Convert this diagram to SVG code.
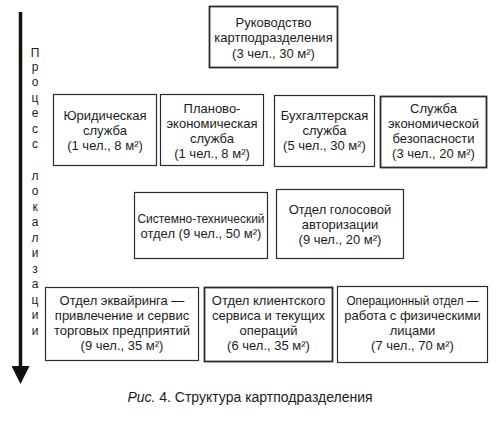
<svg xmlns="http://www.w3.org/2000/svg" width="499" height="429" viewBox="0 0 499 429">
  <defs>
    <style>
      .box { fill: #ffffff; stroke: #2b2b2b; stroke-width: 1.2; }
      .bold { stroke-width: 1.8; }
      .t { font-family: "Liberation Sans", Arial, sans-serif; font-size: 13px; fill: #1c1c1c; text-anchor: middle; }
      .v { font-family: "Liberation Sans", Arial, sans-serif; font-size: 12px; fill: #1c1c1c; text-anchor: middle; }
      .cap { font-family: "Liberation Sans", Arial, sans-serif; font-size: 14px; fill: #1c1c1c; text-anchor: middle; }
      .axis { stroke: #111; stroke-width: 3.5; fill: none; }
    </style>
    <marker id="head" markerUnits="userSpaceOnUse" markerWidth="18" markerHeight="18" refX="0" refY="9" orient="auto">
      <path d="M0,0 L18,9 L0,18 Z" fill="#111"/>
    </marker>
  </defs>
  <rect width="499" height="429" fill="#ffffff"/>

  <g id="connectors">
    <line class="axis" x1="20.5" y1="12" x2="20.5" y2="366" marker-end="url(#head)"/>
  </g>

  <g id="process-label">
    <text class="v" x="35" y="56.5">П</text>
    <text class="v" x="35" y="70.5">р</text>
    <text class="v" x="35" y="86">о</text>
    <text class="v" x="35" y="101.5">ц</text>
    <text class="v" x="35" y="117">е</text>
    <text class="v" x="35" y="132.5">с</text>
    <text class="v" x="35" y="148">с</text>
    <text class="v" x="35" y="179.5">л</text>
    <text class="v" x="35" y="195">о</text>
    <text class="v" x="35" y="210.5">к</text>
    <text class="v" x="35" y="226">а</text>
    <text class="v" x="35" y="241.5">л</text>
    <text class="v" x="35" y="257">и</text>
    <text class="v" x="35" y="272.5">з</text>
    <text class="v" x="35" y="288">а</text>
    <text class="v" x="35" y="303.5">ц</text>
    <text class="v" x="35" y="319">и</text>
    <text class="v" x="35" y="334.5">и</text>
  </g>

  <g id="head-office">
    <rect class="box bold" x="209.5" y="6.5" width="128" height="61"/>
    <text class="t" x="273.5" y="26.5">Руководство</text>
    <text class="t" x="273.5" y="42">картподразделения</text>
    <text class="t" x="273.5" y="57.5">(3 чел., 30 м²)</text>
  </g>

  <g id="legal">
    <rect class="box" x="53.5" y="94.5" width="103" height="71"/>
    <text class="t" x="105" y="119.5">Юридическая</text>
    <text class="t" x="105" y="134.5">служба</text>
    <text class="t" x="105" y="149.5">(1 чел., 8 м²)</text>
  </g>

  <g id="planning">
    <rect class="box" x="160.5" y="94.5" width="103" height="71"/>
    <text class="t" x="212" y="112.5">Планово-</text>
    <text class="t" x="212" y="127.5">экономическая</text>
    <text class="t" x="212" y="142.5">служба</text>
    <text class="t" x="212" y="157.5">(1 чел., 8 м²)</text>
  </g>

  <g id="accounting">
    <rect class="box" x="274.5" y="95.5" width="100" height="71"/>
    <text class="t" x="324.5" y="120">Бухгалтерская</text>
    <text class="t" x="324.5" y="135">служба</text>
    <text class="t" x="324.5" y="150">(5 чел., 30 м²)</text>
  </g>

  <g id="security">
    <rect class="box bold" x="380.5" y="96.5" width="106" height="71"/>
    <text class="t" x="433.5" y="113">Служба</text>
    <text class="t" x="433.5" y="128">экономической</text>
    <text class="t" x="433.5" y="143">безопасности</text>
    <text class="t" x="433.5" y="158">(3 чел., 20 м²)</text>
  </g>

  <g id="tech">
    <rect class="box" x="134.5" y="192.5" width="133" height="66"/>
    <text class="t" x="201" y="222.5" textLength="127" lengthAdjust="spacingAndGlyphs">Системно-технический</text>
    <text class="t" x="201" y="237.5">отдел (9 чел., 50 м²)</text>
  </g>

  <g id="voice-auth">
    <rect class="box" x="276.5" y="189.5" width="127" height="69"/>
    <text class="t" x="340" y="213.5">Отдел голосовой</text>
    <text class="t" x="340" y="228.5">авторизации</text>
    <text class="t" x="340" y="243.5">(9 чел., 20 м²)</text>
  </g>

  <g id="acquiring">
    <rect class="box" x="45.5" y="287.5" width="153" height="73"/>
    <text class="t" x="122" y="304.5">Отдел эквайринга —</text>
    <text class="t" x="122" y="319.5">привлечение и сервис</text>
    <text class="t" x="122" y="334.5">торговых предприятий</text>
    <text class="t" x="122" y="349.5">(9 чел., 35 м²)</text>
  </g>

  <g id="client-service">
    <rect class="box bold" x="204.5" y="287.5" width="128" height="74"/>
    <text class="t" x="268.5" y="304.5">Отдел клиентского</text>
    <text class="t" x="268.5" y="319.5">сервиса и текущих</text>
    <text class="t" x="268.5" y="334.5">операций</text>
    <text class="t" x="268.5" y="349.5">(6 чел., 35 м²)</text>
  </g>

  <g id="operations">
    <rect class="box" x="337.5" y="286.5" width="150" height="76"/>
    <text class="t" x="412.5" y="304.5" textLength="132" lengthAdjust="spacingAndGlyphs">Операционный отдел —</text>
    <text class="t" x="412.5" y="319.5">работа с физическими</text>
    <text class="t" x="412.5" y="334.5">лицами</text>
    <text class="t" x="412.5" y="349.5">(7 чел., 70 м²)</text>
  </g>

  <g id="caption">
    <text class="cap" x="250" y="401.5"><tspan font-style="italic">Рис.</tspan> 4. Структура картподразделения</text>
  </g>
</svg>
